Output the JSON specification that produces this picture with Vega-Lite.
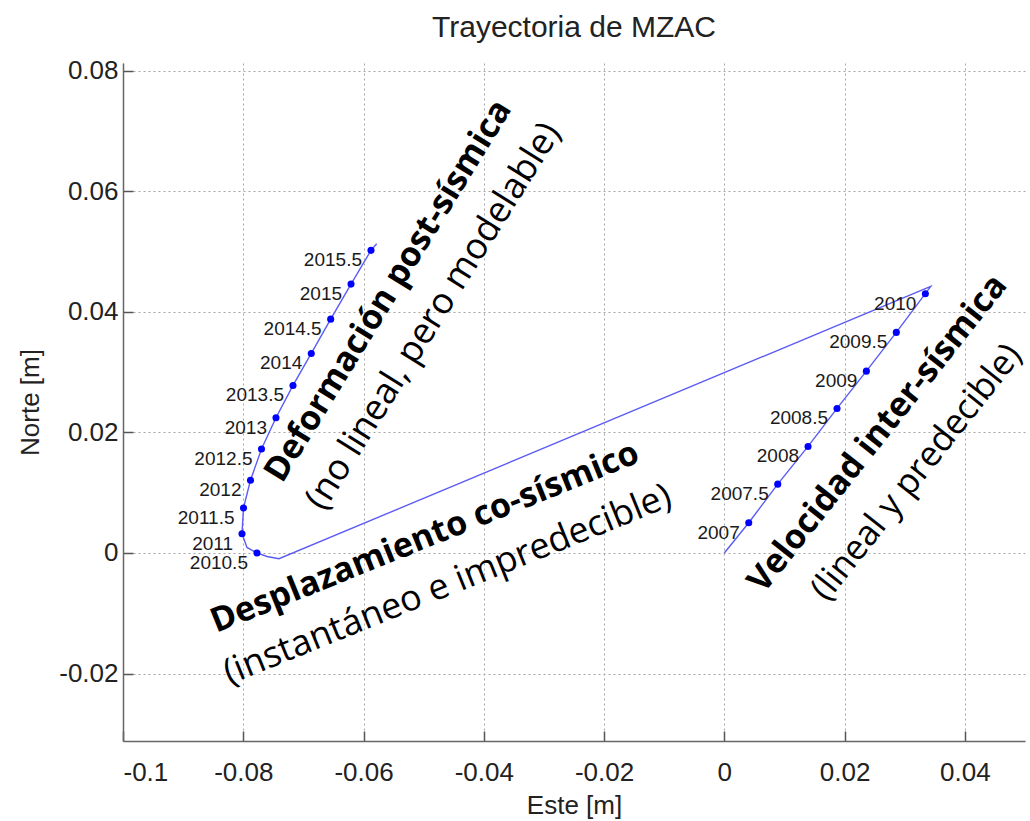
{
  "$schema": "https://vega.github.io/schema/vega-lite/v6.json",
  "width": 902,
  "height": 678,
  "autosize": {"type": "none"},
  "padding": {"left": 123, "top": 63, "right": 5, "bottom": 80},
  "background": "white",
  "title": {"text": "Trayectoria de MZAC", "font": "Liberation Sans", "fontSize": 30, "fontWeight": "normal", "color": "#222222", "offset": 15},
  "config": {
    "view": {"stroke": null},
    "axis": {
      "labelFont": "Liberation Sans", "labelFontSize": 26, "labelColor": "#222222",
      "titleFont": "Liberation Sans", "titleFontSize": 26, "titleFontWeight": "normal", "titleColor": "#222222",
      "domainColor": "#666666", "domainWidth": 1.5, "tickColor": "#555555", "tickWidth": 1.5,
      "gridColor": "#a5a5a5", "gridDash": [2, 3], "gridWidth": 1, "gridOpacity": 1
    }
  },
  "datasets": {
    "track": [
      {"o": 1, "x": 0.0, "y": 0.0},
      {"o": 2, "x": 0.00406, "y": 0.00501, "label": "2007"},
      {"o": 3, "x": 0.00888, "y": 0.01142, "label": "2007.5"},
      {"o": 4, "x": 0.01392, "y": 0.01768, "label": "2008"},
      {"o": 5, "x": 0.01874, "y": 0.02398, "label": "2008.5"},
      {"o": 6, "x": 0.02362, "y": 0.03017, "label": "2009"},
      {"o": 7, "x": 0.0286, "y": 0.0366, "label": "2009.5"},
      {"o": 8, "x": 0.03343, "y": 0.04302, "label": "2010"},
      {"o": 9, "x": 0.03433, "y": 0.04423},
      {"o": 10, "x": -0.07406, "y": -0.00096},
      {"o": 11, "x": -0.07605, "y": -0.00058},
      {"o": 12, "x": -0.07772, "y": 0.0, "label": "2010.5"},
      {"o": 13, "x": -0.07938, "y": 0.00091},
      {"o": 14, "x": -0.08021, "y": 0.0032, "label": "2011"},
      {"o": 15, "x": -0.07996, "y": 0.00747, "label": "2011.5"},
      {"o": 16, "x": -0.0788, "y": 0.01207, "label": "2012"},
      {"o": 17, "x": -0.07697, "y": 0.01724, "label": "2012.5"},
      {"o": 18, "x": -0.07456, "y": 0.02244, "label": "2013"},
      {"o": 19, "x": -0.07173, "y": 0.0278, "label": "2013.5"},
      {"o": 20, "x": -0.06869, "y": 0.03311, "label": "2014"},
      {"o": 21, "x": -0.06546, "y": 0.0388, "label": "2014.5"},
      {"o": 22, "x": -0.06208, "y": 0.04461, "label": "2015"},
      {"o": 23, "x": -0.05876, "y": 0.05021, "label": "2015.5"},
      {"o": 24, "x": -0.05781, "y": 0.05132}
    ],
    "notes": [
      {"g": "post", "k": "head", "x": -0.0558, "y": 0.04344, "text": "Deformación post-sísmica"},
      {"g": "post", "k": "sub", "x": -0.0484, "y": 0.03929, "text": "(no lineal, pero modelable)"},
      {"g": "co", "k": "head", "x": -0.04978, "y": 0.00249, "text": "Desplazamiento co-sísmico"},
      {"g": "co", "k": "sub", "x": -0.04603, "y": -0.00526, "text": "(instantáneo e impredecible)"},
      {"g": "inter", "k": "head", "x": 0.02556, "y": 0.01978, "text": "Velocidad inter-sísmica"},
      {"g": "inter", "k": "sub", "x": 0.03193, "y": 0.01341, "text": "(lineal y predecible)"}
    ]
  },
  "encoding": {
    "x": {"field": "x", "type": "quantitative",
      "scale": {"domain": [-0.1, 0.05], "nice": false, "zero": false},
      "axis": {"title": "Este [m]", "values": [-0.1, -0.08, -0.06, -0.04, -0.02, 0, 0.02, 0.04], "labelExpr": "'' + datum.value", "tickSize": -10, "labelPadding": 28, "titlePadding": 7, "grid": true}},
    "y": {"field": "y", "type": "quantitative",
      "scale": {"domain": [-0.0312, 0.0813], "nice": false, "zero": false},
      "axis": {"title": "Norte [m]", "values": [-0.02, 0, 0.02, 0.04, 0.06, 0.08], "labelExpr": "'' + datum.value", "tickSize": -10, "labelPadding": 15, "titlePadding": 15, "grid": true}}
  },
  "layer": [
    {"data": {"name": "track"}, "mark": {"type": "line", "color": "#5c5cf5", "strokeWidth": 1.4}, "encoding": {"order": {"field": "o", "type": "quantitative"}}},
    {"data": {"name": "track"}, "transform": [{"filter": "datum.label != null"}], "mark": {"type": "circle", "color": "#0000ff", "opacity": 1, "size": 50}},
    {"data": {"name": "track"}, "transform": [{"filter": "datum.label != null"}], "mark": {"type": "text", "align": "right", "baseline": "middle", "dx": -9, "dy": 10, "font": "Liberation Sans", "fontSize": 19, "color": "#1a1a1a"}, "encoding": {"text": {"field": "label"}}},
    {"data": {"name": "notes"}, "transform": [{"filter": "datum.g == 'post' && datum.k == 'head'"}], "mark": {"type": "text", "align": "center", "baseline": "middle", "angle": -58.5, "font": "Open Sans", "fontWeight": "bold", "fontSize": 34, "color": "#000000"}, "encoding": {"text": {"field": "text"}}},
    {"data": {"name": "notes"}, "transform": [{"filter": "datum.g == 'post' && datum.k == 'sub'"}], "mark": {"type": "text", "align": "center", "baseline": "middle", "angle": -58, "font": "Open Sans", "fontSize": 36, "color": "#000000"}, "encoding": {"text": {"field": "text"}}},
    {"data": {"name": "notes"}, "transform": [{"filter": "datum.g == 'co' && datum.k == 'head'"}], "mark": {"type": "text", "align": "center", "baseline": "middle", "angle": -22, "font": "Open Sans", "fontWeight": "bold", "fontSize": 34, "color": "#000000"}, "encoding": {"text": {"field": "text"}}},
    {"data": {"name": "notes"}, "transform": [{"filter": "datum.g == 'co' && datum.k == 'sub'"}], "mark": {"type": "text", "align": "center", "baseline": "middle", "angle": -22, "font": "Open Sans", "fontSize": 36, "color": "#000000"}, "encoding": {"text": {"field": "text"}}},
    {"data": {"name": "notes"}, "transform": [{"filter": "datum.g == 'inter' && datum.k == 'head'"}], "mark": {"type": "text", "align": "center", "baseline": "middle", "angle": -51.6, "font": "Open Sans", "fontWeight": "bold", "fontSize": 34, "color": "#000000"}, "encoding": {"text": {"field": "text"}}},
    {"data": {"name": "notes"}, "transform": [{"filter": "datum.g == 'inter' && datum.k == 'sub'"}], "mark": {"type": "text", "align": "center", "baseline": "middle", "angle": -51.6, "font": "Open Sans", "fontSize": 35, "color": "#000000"}, "encoding": {"text": {"field": "text"}}}
  ]
}
